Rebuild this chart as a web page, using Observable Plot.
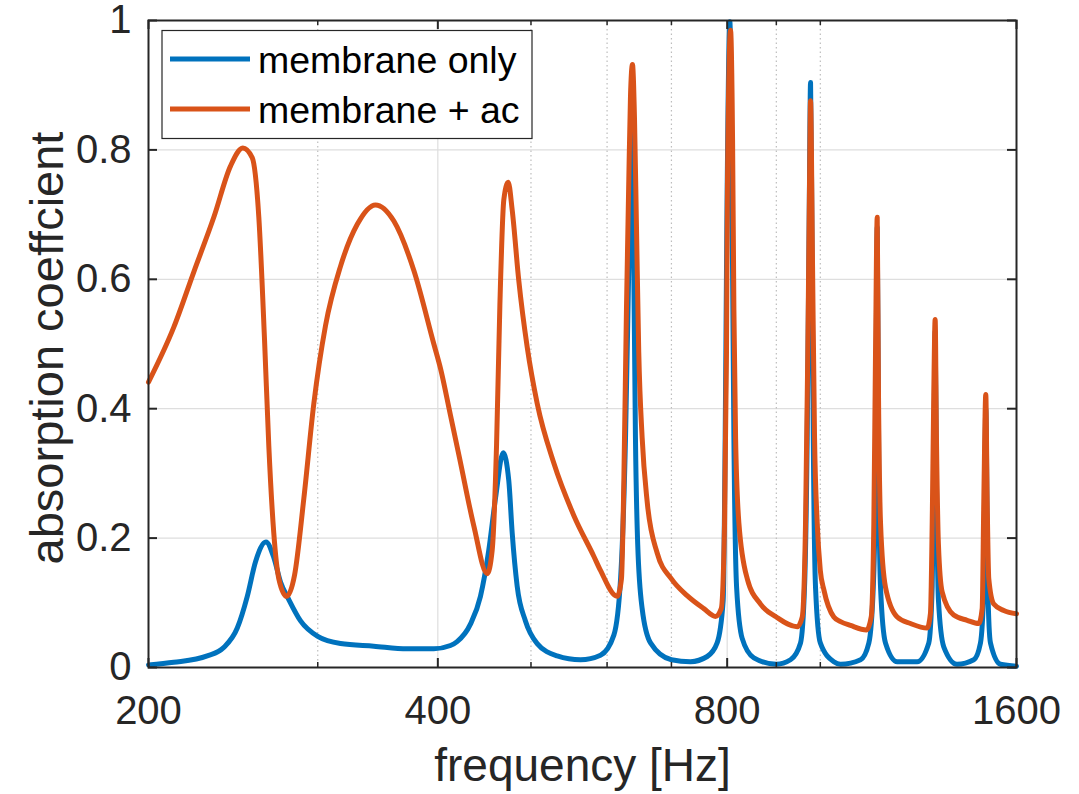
<!DOCTYPE html>
<html><head><meta charset="utf-8">
<script src="https://cdn.jsdelivr.net/npm/d3@7"></script>
<script src="https://cdn.jsdelivr.net/npm/@observablehq/plot@0.6"></script>
<style>
body{margin:0;background:#fff;}
#chart{position:relative;width:1079px;height:794px;font-family:"Liberation Sans",Arial,sans-serif;}
#legend{position:absolute;left:0;top:0;pointer-events:none;}
</style></head><body><div id="chart"></div>
<script>
const seriesNames = ["membrane only", "membrane + ac"];
const seriesColors = ["#0072BD", "#D95319"];

const freqMembrane = [200,212.5,230.2,239.5,247.4,253.4,258.5,265,270,274.4,279.9,287.9,300,316.8,343.1,371.7,396.2,412.3,418.9,432.5,443,451.9,459.3,467.8,474.1,478,483.7,493.4,507.5,532.4,563,590.6,609.8,619.7,627.1,632,635.6,637.6,639.6,642.2,645.7,652.6,665.8,700,732.6,762.6,781,792.4,796.2,799.4,805.2,809.7,813,818.3,829.3,852.8,900,931.1,953.7,962.9,969.1,973.6,976.9,980,983.3,988.6,1000,1032.9,1049.7,1101.3,1123.4,1135.3,1141.4,1146.1,1150.4,1155.2,1169,1202.3,1261.2,1296.8,1307.3,1312.3,1316.7,1320.8,1327.1,1344.1,1387.6,1444.3,1467.7,1479.4,1486.5,1493.7,1503.2,1539.8,1600];
const alphaMembrane = [0.004,0.008,0.018,0.031,0.061,0.110,0.164,0.194,0.170,0.132,0.105,0.072,0.048,0.037,0.033,0.029,0.029,0.034,0.040,0.067,0.110,0.181,0.262,0.332,0.289,0.208,0.126,0.072,0.037,0.018,0.012,0.019,0.050,0.137,0.355,0.619,0.817,0.900,0.619,0.355,0.190,0.091,0.038,0.012,0.009,0.017,0.038,0.104,0.355,0.685,0.998,0.685,0.355,0.124,0.045,0.015,0.005,0.012,0.038,0.124,0.355,0.685,0.904,0.685,0.355,0.124,0.038,0.009,0.005,0.012,0.038,0.124,0.289,0.680,0.289,0.124,0.038,0.009,0.009,0.038,0.124,0.289,0.520,0.289,0.104,0.032,0.005,0.012,0.038,0.124,0.400,0.124,0.038,0.005,0.002];

const freqAc = [200,212.5,223,234,243.4,250.7,256.4,260.5,264.1,266.8,270,273.3,278.4,283.8,290.2,297.2,305.6,316.8,329.8,344.5,360,377.6,396.2,402.6,412.3,421.6,436,450.2,455.6,460.4,464.1,468.5,473.5,478,485.6,495.5,507.5,528.1,554,581.2,590.6,614.7,621,624.6,628.5,632,634.6,637.6,640.7,643.7,647.3,652.6,660.5,676.5,700,726.9,756.5,778,788.7,795,798.7,800.6,806.5,810.4,813,816.3,822.8,839.5,866.6,900,946.1,957.6,965.2,970.5,974.5,976.9,981.6,986.3,992.6,1000,1008.6,1032.9,1049.7,1075.1,1117.1,1129.7,1136.8,1141.4,1146.1,1149.6,1155.2,1169,1202.3,1241.2,1291.8,1302,1308.3,1312.3,1316.7,1320.8,1327.1,1338.9,1376.6,1421.6,1461.8,1473.7,1479.4,1486.5,1491.5,1497.2,1515.2,1552,1600];
const alphaAc = [0.441,0.526,0.612,0.697,0.775,0.803,0.788,0.696,0.506,0.343,0.208,0.137,0.110,0.143,0.262,0.408,0.528,0.620,0.685,0.715,0.690,0.614,0.500,0.462,0.390,0.322,0.219,0.145,0.181,0.343,0.560,0.723,0.750,0.707,0.598,0.495,0.408,0.316,0.235,0.172,0.150,0.110,0.137,0.289,0.553,0.751,0.883,0.932,0.850,0.685,0.487,0.355,0.256,0.177,0.137,0.111,0.091,0.079,0.091,0.223,0.487,0.751,0.985,0.817,0.553,0.355,0.223,0.137,0.098,0.078,0.063,0.078,0.223,0.487,0.751,0.876,0.619,0.355,0.223,0.150,0.120,0.078,0.071,0.065,0.058,0.078,0.223,0.487,0.696,0.421,0.223,0.124,0.078,0.068,0.061,0.084,0.256,0.421,0.538,0.355,0.190,0.117,0.081,0.073,0.068,0.091,0.256,0.422,0.256,0.137,0.098,0.088,0.083];

const xTicks = [200, 400, 800, 1600];
const xMinorTicks = [300, 500, 600, 700, 900, 1000];
const xMajorGrid = [400, 800];
const yTicks = [0, 0.2, 0.4, 0.6, 0.8, 1];
const yGrid = [0.2, 0.4, 0.6, 0.8];
const xLabel = "frequency [Hz]";
const yLabel = "absorption coeffcient";

const membrane = freqMembrane.map((f, i) => ({f, a: alphaMembrane[i]}));
const withAc = freqAc.map((f, i) => ({f, a: alphaAc[i]}));

const W = 1079, H = 794;
const mL = 148, mR = 63, mT = 20, mB = 127;
const frameW = W - mL - mR, frameH = H - mT - mB;
const axisColor = "#262626";
const majorLen = 9, minorLen = 5;
const lw = 5;

const chart = Plot.plot({
  width: W, height: H,
  marginLeft: mL, marginRight: mR, marginTop: mT, marginBottom: mB,
  style: {fontFamily: '"Liberation Sans", Arial, sans-serif', color: axisColor, background: "white", overflow: "visible"},
  x: {type: "log", domain: [200, 1600]},
  y: {domain: [0, 1]},
  marks: [
    Plot.ruleY(yGrid, {stroke: "#dedede", strokeWidth: 1.2}),
    Plot.ruleX(xMajorGrid, {stroke: "#dedede", strokeWidth: 1.2}),
    Plot.ruleX(xMinorTicks, {stroke: "#bdbdbd", strokeWidth: 1.2, strokeDasharray: "1.5,3"}),
    Plot.line(membrane, {x: "f", y: "a", stroke: seriesColors[0], strokeWidth: lw, strokeLinejoin: "round", strokeLinecap: "round", curve: "monotone-x"}),
    Plot.line(withAc, {x: "f", y: "a", stroke: seriesColors[1], strokeWidth: lw, strokeLinejoin: "round", strokeLinecap: "round", curve: "monotone-x"}),
    // inward tick marks (box style)
    Plot.ruleX(xTicks, {y1: 1, y2: 0, insetTop: frameH - majorLen, stroke: axisColor, strokeWidth: 2}),
    Plot.ruleX(xTicks, {y1: 1, y2: 0, insetBottom: frameH - majorLen, stroke: axisColor, strokeWidth: 2}),
    Plot.ruleX(xMinorTicks, {y1: 1, y2: 0, insetTop: frameH - minorLen, stroke: axisColor, strokeWidth: 1.5}),
    Plot.ruleX(xMinorTicks, {y1: 1, y2: 0, insetBottom: frameH - minorLen, stroke: axisColor, strokeWidth: 1.5}),
    Plot.ruleY(yTicks, {x1: 200, x2: 1600, insetRight: frameW - majorLen, stroke: axisColor, strokeWidth: 2}),
    Plot.ruleY(yTicks, {x1: 200, x2: 1600, insetLeft: frameW - majorLen, stroke: axisColor, strokeWidth: 2}),
    Plot.frame({stroke: axisColor, strokeWidth: 2}),
    Plot.axisX({ticks: xTicks, tickSize: 0, tickPadding: 28, fontSize: 40, label: null, tickFormat: d => String(d)}),
    Plot.axisY({ticks: yTicks, tickSize: 0, tickPadding: 17, fontSize: 40, label: null, tickFormat: d => String(d)}),
    Plot.text([xLabel], {text: d => d, frameAnchor: "bottom", dy: 113, fontSize: 46, lineAnchor: "bottom", textAnchor: "middle", fill: axisColor}),
    Plot.text([yLabel], {text: d => d, frameAnchor: "left", rotate: -90, dx: -86, dy: 4, fontSize: 47, lineAnchor: "bottom", textAnchor: "middle", fill: axisColor})
  ]
});

const container = document.getElementById("chart");
container.appendChild(chart);

// Legend (inside the axes, top-left)
const ns = "http://www.w3.org/2000/svg";
const leg = document.createElementNS(ns, "svg");
leg.setAttribute("id", "legend");
leg.setAttribute("width", W);
leg.setAttribute("height", H);
const box = document.createElementNS(ns, "rect");
box.setAttribute("x", 162); box.setAttribute("y", 30.5);
box.setAttribute("width", 370); box.setAttribute("height", 108);
box.setAttribute("fill", "white"); box.setAttribute("stroke", axisColor); box.setAttribute("stroke-width", 1.2);
leg.appendChild(box);
seriesNames.forEach((name, i) => {
  const yy = 59 + i * 50;
  const ln = document.createElementNS(ns, "line");
  ln.setAttribute("x1", 170); ln.setAttribute("x2", 250);
  ln.setAttribute("y1", yy); ln.setAttribute("y2", yy);
  ln.setAttribute("stroke", seriesColors[i]); ln.setAttribute("stroke-width", lw);
  leg.appendChild(ln);
  const tx = document.createElementNS(ns, "text");
  tx.setAttribute("x", 258); tx.setAttribute("y", yy + 14);
  tx.setAttribute("font-size", 37.5);
  tx.setAttribute("font-family", '"Liberation Sans", Arial, sans-serif');
  tx.setAttribute("fill", "#000");
  tx.textContent = name;
  leg.appendChild(tx);
});
container.appendChild(leg);
</script>
</body></html>
